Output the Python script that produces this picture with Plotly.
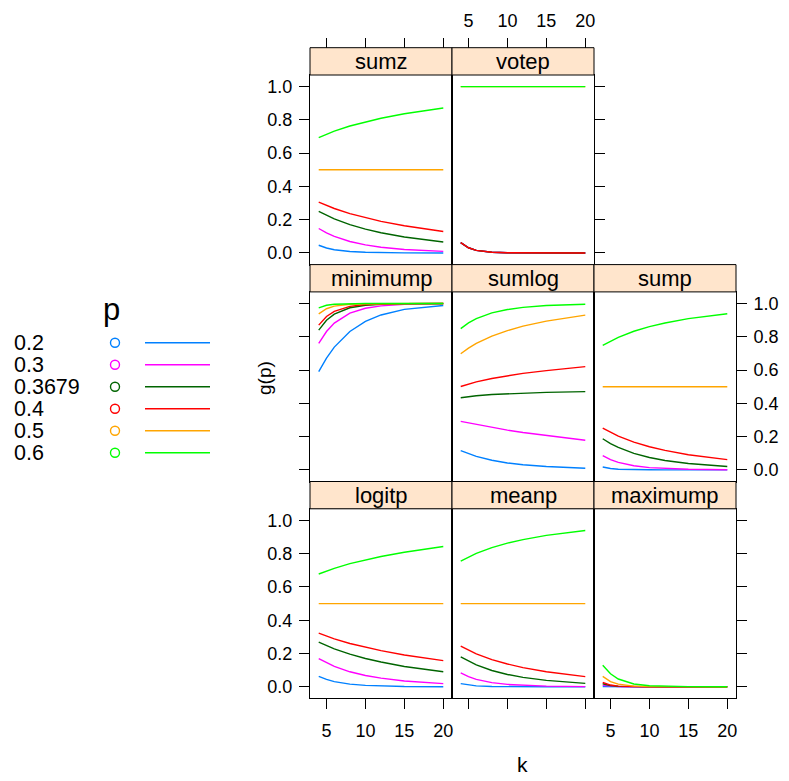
import plotly.graph_objects as go

# ---------------- data ----------------
K = [4, 5, 6, 8, 10, 12, 15, 20]
P_LABELS = ["0.2", "0.3", "0.3679", "0.4", "0.5", "0.6"]
COLORS = ["#0080ff", "#ff00ff", "#006400", "#ff0000", "#ffa500", "#00ff00"]

sumz = [
    [0.0462, 0.0299, 0.0196, 0.0087, 0.0039, 0.0018, 0.0006, 0.0001],
    [0.1471, 0.1205, 0.0995, 0.0690, 0.0486, 0.0346, 0.0211, 0.0095],
    [0.2499, 0.2253, 0.2043, 0.1699, 0.1430, 0.1212, 0.0956, 0.0657],
    [0.3062, 0.2856, 0.2675, 0.2369, 0.2116, 0.1901, 0.1633, 0.1287],
    [0.5, 0.5, 0.5, 0.5, 0.5, 0.5, 0.5, 0.5],
    [0.6938, 0.7144, 0.7325, 0.7631, 0.7884, 0.8099, 0.8367, 0.8713],
]
votep = [
    [0.0625, 0.0313, 0.0156, 0.0039, 0.0010, 0.0002, 0.0000, 0.0000],
    [0.0625, 0.0313, 0.0156, 0.0039, 0.0010, 0.0002, 0.0000, 0.0000],
    [0.0625, 0.0313, 0.0156, 0.0039, 0.0010, 0.0002, 0.0000, 0.0000],
    [0.0625, 0.0313, 0.0156, 0.0039, 0.0010, 0.0002, 0.0000, 0.0000],
    [1.0, 1.0, 1.0, 1.0, 1.0, 1.0, 1.0, 1.0],
    [1.0, 1.0, 1.0, 1.0, 1.0, 1.0, 1.0, 1.0],
]
minimump = [
    [0.5904, 0.6723, 0.7379, 0.8322, 0.8926, 0.9313, 0.9648, 0.9885],
    [0.7599, 0.8319, 0.8824, 0.9424, 0.9718, 0.9862, 0.9953, 0.9992],
    [0.8404, 0.8991, 0.9362, 0.9745, 0.9898, 0.9959, 0.9990, 0.9999],
    [0.8704, 0.9222, 0.9533, 0.9832, 0.9940, 0.9978, 0.9995, 1.0000],
    [0.9375, 0.9688, 0.9844, 0.9961, 0.9990, 0.9998, 1.0000, 1.0000],
    [0.9744, 0.9898, 0.9959, 0.9993, 0.9999, 1.0000, 1.0000, 1.0000],
]
sumlog = [
    [0.1161, 0.0970, 0.0812, 0.0577, 0.0413, 0.0310, 0.0200, 0.0095],
    [0.2918, 0.2824, 0.2730, 0.2552, 0.2389, 0.2250, 0.2060, 0.1780],
    [0.4335, 0.4405, 0.4457, 0.4530, 0.4579, 0.4616, 0.4657, 0.4703],
    [0.5012, 0.5168, 0.5292, 0.5496, 0.5660, 0.5800, 0.5970, 0.6210],
    [0.6980, 0.7319, 0.7599, 0.8038, 0.8374, 0.8640, 0.8940, 0.9300],
    [0.8492, 0.8838, 0.9093, 0.9435, 0.9640, 0.9770, 0.9880, 0.9960],
]
sump = [
    [0.0171, 0.0083, 0.0041, 0.0011, 0.0003, 0.0001, 0.0000, 0.0000],
    [0.0861, 0.0620, 0.0451, 0.0244, 0.0135, 0.0078, 0.0034, 0.0009],
    [0.1872, 0.1581, 0.1349, 0.0990, 0.0740, 0.0565, 0.0380, 0.0200],
    [0.2515, 0.2250, 0.2028, 0.1668, 0.1389, 0.1170, 0.0910, 0.0615],
    [0.5, 0.5, 0.5, 0.5, 0.5, 0.5, 0.5, 0.5],
    [0.7485, 0.7750, 0.7972, 0.8332, 0.8611, 0.8830, 0.9090, 0.9385],
]
logitp = [
    [0.0620, 0.0440, 0.0310, 0.0160, 0.0085, 0.0045, 0.0018, 0.0004],
    [0.1690, 0.1430, 0.1220, 0.0900, 0.0680, 0.0520, 0.0350, 0.0190],
    [0.2690, 0.2470, 0.2280, 0.1960, 0.1700, 0.1490, 0.1220, 0.0900],
    [0.3220, 0.3040, 0.2880, 0.2600, 0.2370, 0.2170, 0.1910, 0.1570],
    [0.5, 0.5, 0.5, 0.5, 0.5, 0.5, 0.5, 0.5],
    [0.6780, 0.6960, 0.7120, 0.7400, 0.7630, 0.7830, 0.8090, 0.8430],
]
meanp = [
    [0.0188, 0.0101, 0.0055, 0.0016, 0.0005, 0.0002, 0.0000, 0.0000],
    [0.0829, 0.0607, 0.0448, 0.0250, 0.0142, 0.0082, 0.0037, 0.0010],
    [0.1800, 0.1531, 0.1312, 0.0978, 0.0740, 0.0565, 0.0382, 0.0204],
    [0.2442, 0.2193, 0.1981, 0.1636, 0.1367, 0.1151, 0.0899, 0.0607],
    [0.5, 0.5, 0.5, 0.5, 0.5, 0.5, 0.5, 0.5],
    [0.7558, 0.7807, 0.8019, 0.8364, 0.8633, 0.8849, 0.9101, 0.9393],
]
maximump = [
    [0.0016, 0.0003, 0.0001, 0.0000, 0.0000, 0.0000, 0.0000, 0.0000],
    [0.0081, 0.0024, 0.0007, 0.0001, 0.0000, 0.0000, 0.0000, 0.0000],
    [0.0183, 0.0067, 0.0025, 0.0003, 0.0000, 0.0000, 0.0000, 0.0000],
    [0.0256, 0.0102, 0.0041, 0.0007, 0.0001, 0.0000, 0.0000, 0.0000],
    [0.0625, 0.0313, 0.0156, 0.0039, 0.0010, 0.0002, 0.0000, 0.0000],
    [0.1296, 0.0778, 0.0467, 0.0168, 0.0061, 0.0022, 0.0005, 0.0000],
]

X_TICKS = [5, 10, 15, 20]
Y_TICKS = [0.0, 0.2, 0.4, 0.6, 0.8, 1.0]

# (name, row, col, values)
PANELS = [
    ("sumz", 0, 0, sumz), ("votep", 0, 1, votep),
    ("minimump", 1, 0, minimump), ("sumlog", 1, 1, sumlog), ("sump", 1, 2, sump),
    ("logitp", 2, 0, logitp), ("meanp", 2, 1, meanp), ("maximump", 2, 2, maximump),
]

# ---------------- layout geometry (pixels) ----------------
W, H = 789, 781
def PX(x): return x / W
def PY(y): return 1 - y / H

COL_X = [310, 452, 594, 736]
ROW_TOP = 47.7
BLOCK = 216.9
STRIP_H = 27.3
XR = [2.88, 21.12]
YR = [-0.07, 1.07]
FONT = "Liberation Sans, Arial, Helvetica, sans-serif"
TICKFONT = dict(family=FONT, size=18, color="black")
TICKLEN = 10

fig = go.Figure()
layout = dict(
    width=W, height=H, autosize=False,
    margin=dict(l=0, r=0, t=0, b=0),
    paper_bgcolor="white", plot_bgcolor="white",
    showlegend=False, font=dict(family=FONT, color="black"),
)
shapes = []
annotations = []

def ax_common():
    return dict(showgrid=False, zeroline=False, showline=True, mirror=True,
                linecolor="black", linewidth=1, tickcolor="black", ticklen=TICKLEN,
                tickwidth=1, tickfont=TICKFONT, fixedrange=True, automargin=False)

for i, (name, r, c, vals) in enumerate(PANELS, start=1):
    x0, x1 = COL_X[c], COL_X[c + 1]
    stop = ROW_TOP + r * BLOCK
    sbot = stop + STRIP_H
    pbot = stop + BLOCK
    xa = ax_common()
    xa.update(domain=[PX(x0), PX(x1)], range=XR, anchor=f"y{i}",
              tickvals=X_TICKS, ticklabelstandoff=6)
    if r == 2:
        xa.update(ticks="outside", showticklabels=(c != 1))
    else:
        xa.update(ticks="", showticklabels=False)
    ya = ax_common()
    ya.update(domain=[PY(pbot), PY(sbot)], range=YR, anchor=f"x{i}",
              tickvals=Y_TICKS, tickformat=".1f", ticklabelstandoff=3)
    if c == 0:
        ya.update(ticks="outside", showticklabels=(r != 1))
    else:
        ya.update(ticks="", showticklabels=False)
    layout[f"xaxis{i}"] = xa
    layout[f"yaxis{i}"] = ya

    # strip
    shapes.append(dict(type="rect", xref="paper", yref="paper",
                       x0=PX(x0), x1=PX(x1), y0=PY(sbot), y1=PY(stop),
                       fillcolor="#ffe5cc", line=dict(color="black", width=1),
                       layer="above"))
    annotations.append(dict(xref="paper", yref="paper", x=PX((x0 + x1) / 2),
                            y=PY((stop + sbot) / 2), text=name, showarrow=False,
                            xanchor="center", yanchor="middle",
                            font=dict(family=FONT, size=22, color="black")))

    for j, series in enumerate(vals):
        fig.add_trace(go.Scatter(x=K, y=series, mode="lines",
                                 line=dict(color=COLORS[j], width=1.4),
                                 xaxis=f"x{i}", yaxis=f"y{i}",
                                 hoverinfo="skip", showlegend=False))

# extra top x-axes (above strips of top row)
extra = 9
for i, (name, r, c, vals) in enumerate(PANELS, start=1):
    if r == 0:
        xa = ax_common()
        xa.update(overlaying=f"x{i}", side="top", anchor="free",
                  position=PY(ROW_TOP), range=XR, tickvals=X_TICKS,
                  ticks="outside", showline=False, mirror=False,
                  showticklabels=(c == 1), ticklabelstandoff=4)
        layout[f"xaxis{extra}"] = xa
        fig.add_trace(go.Scatter(x=[K[0]], y=[None], mode="lines",
                                 xaxis=f"x{extra}", yaxis=f"y{i}",
                                 hoverinfo="skip", showlegend=False))
        extra += 1

# extra right y-axes for the rightmost panel of each row
rightmost = {}
for i, (name, r, c, vals) in enumerate(PANELS, start=1):
    if r not in rightmost or c > rightmost[r][1]:
        rightmost[r] = (i, c)
for r, (i, c) in sorted(rightmost.items()):
    ya = ax_common()
    ya.update(overlaying=f"y{i}", side="right", anchor=f"x{i}", range=YR,
              tickvals=Y_TICKS, tickformat=".1f", ticks="outside",
              showline=False, mirror=False, showticklabels=(r == 1),
              ticklabelstandoff=3)
    layout[f"yaxis{extra}"] = ya
    fig.add_trace(go.Scatter(x=[K[0]], y=[None], mode="lines",
                             xaxis=f"x{i}", yaxis=f"y{extra}",
                             hoverinfo="skip", showlegend=False))
    extra += 1

# ---------------- legend (own hidden axis, pixel units) ----------------
lg = extra
layout[f"xaxis{lg}"] = dict(domain=[0, PX(240)], range=[0, 240], visible=False,
                            anchor=f"y{lg}", fixedrange=True)
layout[f"yaxis{lg}"] = dict(domain=[PY(470), PY(290)], range=[470, 290],
                            visible=False, anchor=f"x{lg}", fixedrange=True)
ROW0, ROWSTEP = 342.7, 22.0
rows_y = [ROW0 + ROWSTEP * j for j in range(len(P_LABELS))]
fig.add_trace(go.Scatter(x=[115] * len(P_LABELS), y=rows_y, mode="markers",
                         marker=dict(symbol="circle-open", size=9,
                                     color=COLORS, line=dict(width=1.4, color=COLORS)),
                         xaxis=f"x{lg}", yaxis=f"y{lg}", hoverinfo="skip",
                         showlegend=False))
for j, lab in enumerate(P_LABELS):
    fig.add_trace(go.Scatter(x=[145, 210], y=[rows_y[j], rows_y[j]], mode="lines",
                             line=dict(color=COLORS[j], width=1.4),
                             xaxis=f"x{lg}", yaxis=f"y{lg}", hoverinfo="skip",
                             showlegend=False))
    annotations.append(dict(xref=f"x{lg}", yref=f"y{lg}", x=12, y=rows_y[j],
                            text=lab, showarrow=False, xanchor="left",
                            yanchor="middle",
                            font=dict(family=FONT, size=21.5, color="black")))
annotations.append(dict(xref=f"x{lg}", yref=f"y{lg}", x=111, y=309, text="p",
                        showarrow=False, xanchor="center", yanchor="middle",
                        font=dict(family=FONT, size=31, color="black")))

# axis titles
annotations.append(dict(xref="paper", yref="paper", x=PX(265), y=PY(378),
                        text="g(p)", textangle=-90, showarrow=False,
                        xanchor="center", yanchor="middle",
                        font=dict(family=FONT, size=19, color="black")))
annotations.append(dict(xref="paper", yref="paper", x=PX(522), y=PY(764),
                        text="k", showarrow=False, xanchor="center",
                        yanchor="middle",
                        font=dict(family=FONT, size=21, color="black")))

layout["shapes"] = shapes
layout["annotations"] = annotations
fig.update_layout(**layout)
fig.write_html("out.html", config={"displayModeBar": False},
               post_script="document.body.style.margin='0';document.body.style.overflow='hidden';")
